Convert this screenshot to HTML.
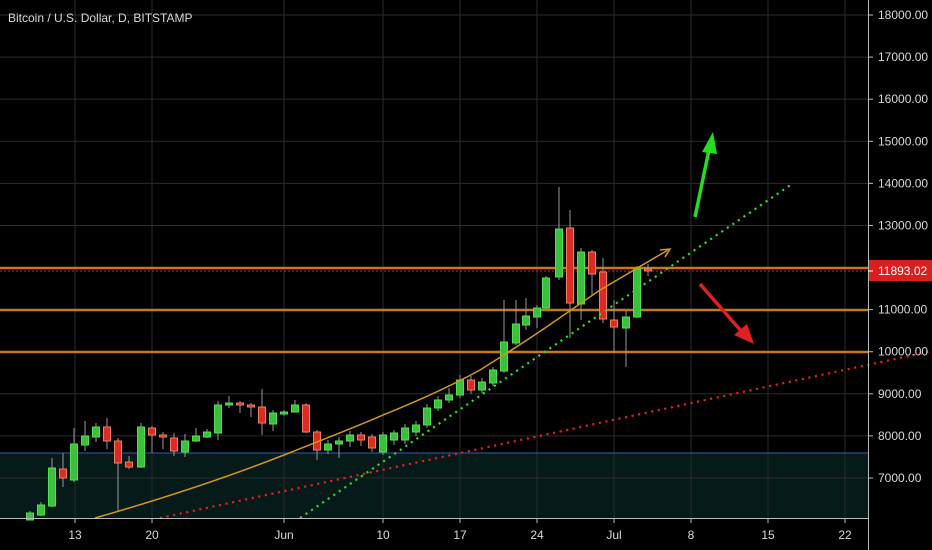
<!DOCTYPE html>
<html><head><meta charset="utf-8"><style>
html,body{margin:0;padding:0;background:#000;overflow:hidden}
svg{display:block;font-family:"Liberation Sans",sans-serif}
</style></head><body>
<svg id="s" width="932" height="550" xmlns="http://www.w3.org/2000/svg">
<rect width="932" height="550" fill="#000"/>
<rect x="0" y="453" width="868" height="65" fill="#071a1a"/>
<g id="grid" stroke="#2b2b2b" stroke-width="1"></g>
<line x1="0" y1="453" x2="868" y2="453" stroke="#2a4f8f" stroke-width="1.2"/>
<g stroke="#c8781c" stroke-width="2.5">
<line x1="0" y1="268" x2="868" y2="268"/>
<line x1="0" y1="310" x2="868" y2="310"/>
<line x1="0" y1="352" x2="868" y2="352"/>
</g>
<line x1="0" y1="271" x2="868" y2="271" stroke="#e02020" stroke-width="1" stroke-dasharray="2,2"/>
<g id="candles"></g>
<path d="M95,518 Q200,488 284,455 T383,415 Q440,392 480,370 Q520,345 545,328 L600,290 L668,250" fill="none" stroke="#d09818" stroke-width="1.5"/>
<path d="M660,250 L670,249 L665,257" fill="none" stroke="#d09818" stroke-width="1.5"/>
<line x1="300" y1="518" x2="792" y2="184" stroke="#2ed82e" stroke-width="2.2" stroke-dasharray="2.2,4.5"/>
<line x1="160" y1="518" x2="932" y2="351" stroke="#e02020" stroke-width="2.2" stroke-dasharray="2.2,4.5"/>
<line x1="695" y1="217" x2="709" y2="150" stroke="#22dd22" stroke-width="3.5"/>
<polygon points="713,132 702,152 717,154" fill="#22dd22"/>
<line x1="700" y1="284" x2="742" y2="332" stroke="#e02020" stroke-width="3.5"/>
<polygon points="754,344 734,335 747,324" fill="#e02020"/>
<line x1="0" y1="518.5" x2="868" y2="518.5" stroke="#bbb" stroke-width="1"/>
<line x1="868.5" y1="0" x2="868.5" y2="550" stroke="#bbb" stroke-width="1"/>
<g id="axis" fill="#d8d8d8" font-size="12"></g>
<rect x="869" y="260" width="63" height="21" fill="#d82020"/>
<line x1="868" y1="271" x2="873" y2="271" stroke="#fff"/>
<text x="878" y="275" fill="#fff" font-size="12">11893.02</text>
<text x="8" y="22" fill="#d8d8d8" font-size="12">Bitcoin / U.S. Dollar, D, BITSTAMP</text>
</svg>
<script>
var NS="http://www.w3.org/2000/svg";
function el(p,t,a,txt){var e=document.createElementNS(NS,t);for(var k in a)e.setAttribute(k,a[k]);if(txt)e.textContent=txt;p.appendChild(e);return e;}
var g=document.getElementById('grid'),ax=document.getElementById('axis');
for(var i=0;i<12;i++){var y=15+i*42.09;var p=18000-i*1000;
 el(g,'line',{x1:0,y1:y,x2:868,y2:y});
 el(ax,'line',{x1:868,y1:y,x2:873,y2:y,stroke:'#bbb'});
 el(ax,'text',{x:878,y:y+4},p.toFixed(2)+'');}
var xs=[[75,'13'],[152,'20'],[284,'Jun'],[383,'10'],[460,'17'],[537,'24'],[614,'Jul'],[691,'8'],[768,'15'],[845,'22']];
xs.forEach(function(d){el(g,'line',{x1:d[0],y1:0,x2:d[0],y2:518});
 el(ax,'line',{x1:d[0],y1:518,x2:d[0],y2:523,stroke:'#bbb'});
 el(ax,'text',{x:d[0],y:539,'text-anchor':'middle'},d[1]);});
// x, up?, bodyTop, bodyBot, wickTop, wickBot
var c=[[30,1,513,520,511,520],[41,1,505,515,502,516],[52,1,468,506,458,507],[63,0,469,478,453,487],[74,1,444,480,428,482],
[85,1,436,445,421,451],[96,1,427,437,423,442],[107,0,427,441,418,449],[118,0,441,463,438,512],[129,0,462,467,456,469],
[141,1,427,467,423,468],[152,0,428,435,426,453],[163,0,435,437,432,449],[174,0,438,451,433,456],[185,1,441,452,434,457],
[196,1,436,441,428,442],[207,1,432,437,429,438],[218,1,405,433,401,440],[229,1,403,405,396,408],[240,0,403,405,401,413],
[251,0,405,407,403,417],[262,0,407,423,389,435],[273,1,413,424,410,431],[284,1,412,414,410,416],[295,1,405,412,400,412],
[306,0,405,432,403,433],[317,0,432,450,430,460],[328,1,444,450,440,454],[339,1,441,444,437,458],[350,1,435,441,431,447],
[361,0,435,440,432,446],[372,0,437,448,434,452],[383,1,435,452,432,455],[394,1,433,440,430,445],[405,1,428,440,424,444],
[416,1,425,432,421,436],[427,1,408,425,404,428],[438,1,400,408,396,411],[449,1,395,400,388,403],[460,1,380,395,375,398],
[471,0,380,390,376,394],[482,1,382,390,378,393],[493,1,370,383,367,386],[504,1,342,371,300,373],[516,1,324,343,300,345],
[526,1,316,325,298,330],[537,1,308,317,305,328],[546,1,278,308,276,309],[559,1,229,277,187,280],[570,0,228,303,210,338],
[581,1,252,304,248,320],[592,0,252,274,250,296],[603,0,272,319,258,323],[614,0,320,327,300,353],[626,1,317,328,311,367],
[637,1,269,317,266,318],[648,0,269,271,264,276]];
var cg=document.getElementById('candles');
c.forEach(function(d){var col=d[1]?'#3cbf3c':'#dd2a22',br=d[1]?'#4ee04e':'#f08060';
 el(cg,'line',{x1:d[0],y1:d[4],x2:d[0],y2:d[5],stroke:'#999','stroke-width':1});
 el(cg,'rect',{x:d[0]-3.5,y:d[2],width:7,height:Math.max(2,d[3]-d[2]),fill:col,stroke:br,'stroke-width':1});});
</script>
</body></html>
